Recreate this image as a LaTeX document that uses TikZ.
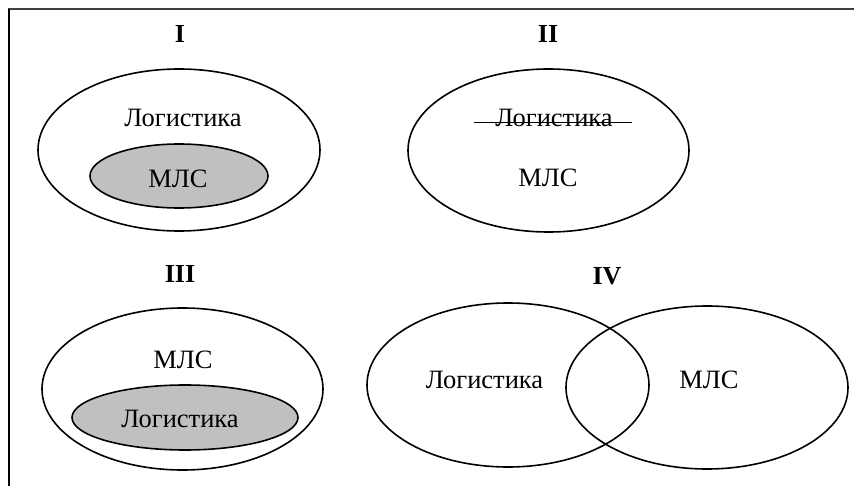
\documentclass[tikz,border=0pt]{standalone}
\usepackage{fontspec}
\setmainfont{Liberation Serif}
\usetikzlibrary{shapes.geometric}

\tikzset{
  set/.style={draw, ellipse, line width=1.6pt, inner sep=0pt,
    minimum width=#1},
  subset/.style={set=#1, fill=shade},
  term/.style={anchor=base, inner sep=0pt, font=\fontsize{26.5}{32}\selectfont},
  caseno/.style={anchor=base, inner sep=0pt, font=\fontsize{26}{31}\selectfont\bfseries},
}
\definecolor{shade}{HTML}{C0C0C0}

\begin{document}
\begin{tikzpicture}[x=1pt, y=-1pt]
  \useasboundingbox (0,0) rectangle (854,486);

  % frame: top and left edges
  \draw[line width=2pt, black!75] (8,9.5) -- (854,9.5);
  \draw[line width=2pt] (8.5,9) -- (8.5,486);

  % I: logistics contains the MLS
  \node[caseno] (n1) at (180,43) {I};
  \node[set=282pt, minimum height=162pt] (a1) at (179,150) {};
  \node[subset=178pt, minimum height=64pt] (b1) at (179,176) {};
  \node[term] (t1a) at (183,127) {Логистика};
  \node[term] (t1b) at (178,188) {МЛС};

  % II: logistics crossed out, only the MLS remains
  \node[caseno] (n2) at (548,43) {II};
  \node[set=281pt, minimum height=163pt] (a2) at (548.5,150.5) {};
  \node[term] (t2a) at (554,127) {Логистика};
  \coordinate (s1) at (474,122.5);
  \coordinate (s2) at (632,122.5);
  \draw[line width=1.6pt] (s1) -- (s2);
  \node[term] (t2b) at (548,187) {МЛС};

  % III: the MLS contains logistics
  \node[caseno] (n3) at (180,283) {III};
  \node[set=281pt, minimum height=162pt] (a3) at (182.5,389) {};
  \node[subset=226pt, minimum height=65pt] (b3) at (185,417.5) {};
  \node[term] (t3a) at (183,368) {МЛС};
  \node[term] (t3b) at (180,427) {Логистика};

  % IV: partial overlap
  \node[caseno] (n4) at (607,285) {IV};
  \node[set=282pt, minimum height=164pt] (a4) at (508,385) {};
  \node[set=282pt, minimum height=163pt] (b4) at (707,387.5) {};
  \node[term] (t4a) at (484.5,388) {Логистика};
  \node[term] (t4b) at (709,388) {МЛС};
\end{tikzpicture}
\end{document}
